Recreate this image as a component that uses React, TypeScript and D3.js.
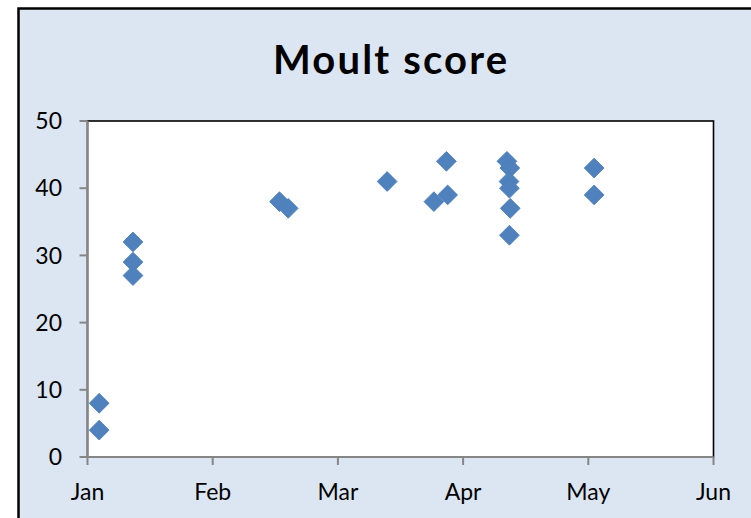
import React from "react";
import * as d3 from "d3";

// Day offsets on the chart's month axis (each month tick = 30 units from "Jan")
const days = [2.8, 2.8, 10.9, 10.9, 10.9, 46.0, 48.1, 71.8, 83.0, 86.3, 86.0, 100.5, 101.2, 101.0, 101.1, 101.3, 101.1, 121.4, 121.4];
const scores = [8, 4, 32, 29, 27, 38, 37, 41, 38, 39, 44, 44, 43, 41, 40, 37, 33, 43, 39];
const monthLabels = ["Jan", "Feb", "Mar", "Apr", "May", "Jun"];
const monthTicks = [0, 30, 60, 90, 120, 150];
const yTicks = [0, 10, 20, 30, 40, 50];
const title = "Moult score";

export default function App() {
  const W = 751, H = 518;
  const left = 87.5, right = 713.5, top = 121, bottom = 457;
  const x = d3.scaleLinear().domain([0, 150]).range([left, right]);
  const y = d3.scaleLinear().domain([0, 50]).range([bottom, top]);
  const diamond = d3.symbol().type(d3.symbolSquare).size(196)() as string;
  const font = "Lato, 'Open Sans', sans-serif";

  return (
    <div style={{ position: "absolute", left: 0, top: 0 }}>
      <svg width={W} height={H} style={{ display: "block" }}>
        <rect x={0} y={0} width={W} height={H} fill="#ffffff" />
        <rect x={18.5} y={8.5} width={W + 20} height={H + 20} fill="#DCE6F2" stroke="#000" strokeWidth={2.5} />
        <text x={390} y={74} textAnchor="middle" fontFamily={font} fontWeight="bold" fontSize={40}
          textLength={234} lengthAdjust="spacing" fill="#000">
          {title}
        </text>
        <rect x={left} y={top} width={right - left} height={bottom - top} fill="#fff" stroke="#000" strokeWidth={1.6} />
        {/* axes */}
        <line x1={left} x2={left} y1={top} y2={bottom + 1} stroke="#868686" strokeWidth={2} />
        <line x1={left - 1} x2={right} y1={bottom} y2={bottom} stroke="#868686" strokeWidth={2} />
        {yTicks.map((t) => (
          <g key={"y" + t}>
            <line x1={left - 8} x2={left} y1={y(t)} y2={y(t)} stroke="#868686" strokeWidth={2} />
            <text x={62} y={y(t)} dy="0.36em" textAnchor="end" fontFamily={font} fontSize={23} fill="#000">
              {t}
            </text>
          </g>
        ))}
        {monthTicks.map((t, i) => (
          <g key={"x" + t}>
            <line x1={x(t)} x2={x(t)} y1={bottom} y2={bottom + 8} stroke="#868686" strokeWidth={2} />
            <text x={x(t)} y={499.5} textAnchor="middle" fontFamily={font} fontSize={23} fill="#000">
              {monthLabels[i]}
            </text>
          </g>
        ))}
        {days.map((d, i) => (
          <path
            key={i}
            d={diamond}
            transform={`translate(${x(d)},${y(scores[i])}) rotate(45)`}
            fill="#4F81BD"
            stroke="#4A7EBB"
            strokeWidth={0.8}
          />
        ))}
      </svg>
    </div>
  );
}
